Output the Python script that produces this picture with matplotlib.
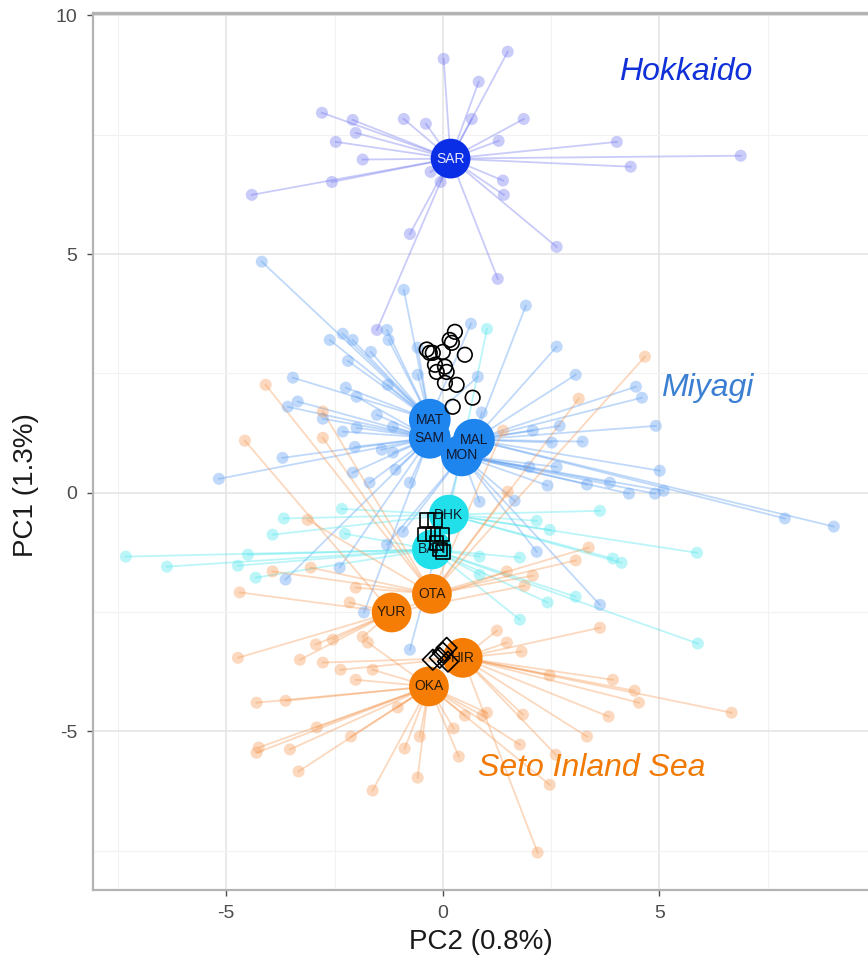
"""PCA scatter of individuals linked to population centroids"""
import matplotlib
matplotlib.use('Agg')
import matplotlib.pyplot as plt
from matplotlib.ticker import MultipleLocator

plt.rcParams['font.family'] = ['Liberation Sans', 'DejaVu Sans']
plt.rcParams['axes.unicode_minus'] = False

# population centroids (PC2, PC1)
pop_names = ['SAR', 'MAT', 'SAM', 'MAL', 'MON', 'DHK', 'BAN', 'OTA', 'YUR', 'HIR', 'OKA']
pop_x = [0.18, -0.30, -0.30, 0.72, 0.44, 0.14, -0.25, -0.25, -1.18, 0.46, -0.32]
pop_y = [7.00, 1.53, 1.15, 1.11, 0.78, -0.46, -1.19, -2.12, -2.51, -3.46, -4.06]
pop_region = ['hok', 'miy', 'miy', 'miy', 'miy', 'cya', 'cya', 'set', 'set', 'set', 'set']

# individuals per population
ind_x = {
    'SAR': [0.02, -2.79, -2.08, -2.01, -2.47, -1.85, -2.56, -4.41, -0.90, -0.39, -0.28, -0.05,
            -0.76, -1.52, 1.50, 0.83, 0.67, 1.87, 1.29, 4.02, 6.88, 4.34, 1.39, 1.41, 2.63, 1.27],
    'MAT': [-4.18, -0.90, -2.61, -2.31, -2.08, -1.66, -2.19, -1.29, -1.25, -0.58, -3.46, -2.24,
            -1.27, -0.58, 0.65, 0.81],
    'SAM': [-1.99, -3.35, -3.58, -2.77, -1.52, -2.31, -1.99, -1.15, -2.03, -1.41, -3.70, -5.17,
            -2.08, -1.69, -1.09, -1.15, -0.76, -3.63, -2.38, -1.82],
    'MAL': [1.92, 2.63, 3.07, 4.46, 4.60, 0.90, 2.70, 2.08, 4.92, 3.23, 2.52, 5.01, 7.90, 9.03],
    'MON': [2.42, 3.33, 3.86, 4.30, 4.90, 5.10, 1.66, 0.85, 2.00, 2.63, -1.29, -0.92, -0.76,
            2.17, 3.63],
    'DHK': [1.02, 3.63, 2.17, 2.47, 5.87, 3.93, 4.13, -2.33, -3.67, -3.93],
    'BAN': [-7.32, -6.37, -4.73, -4.50, -4.32, -2.26, 3.07, 2.42, 5.89, 1.78, 1.78, 0.85, 0.85],
    'OTA': [-4.09, -2.77, -2.77, 4.67, 3.14, 1.39, 1.50, 3.37, 3.07, 2.08, -3.12, -3.93, -3.05,
            -2.01],
    'YUR': [-4.57, -4.69, -2.15, -4.73, -3.30, -2.93, -2.54, -1.85, 1.89, 1.48],
    'HIR': [3.63, 1.25, 1.48, 1.82, 2.47, 3.93, 4.43, 4.53, 6.67, 3.83, 1.85, -2.77, -2.36,
            3.33, 2.61, 2.19],
    'OKA': [-1.73, -1.62, -2.01, -4.30, -3.63, -4.25, -4.30, -3.53, -2.91, -3.33, -2.12, -1.04,
            -0.88, -0.53, -0.58, -1.62, 0.37, 0.25, 0.51, 0.92, 1.78, 2.47, 1.02],
}
ind_y = {
    'SAR': [9.09, 7.96, 7.81, 7.54, 7.35, 6.98, 6.51, 6.24, 7.83, 7.73, 6.72, 6.51,
            5.42, 3.41, 9.24, 8.61, 7.83, 7.83, 7.37, 7.35, 7.06, 6.83, 6.54, 6.24, 5.15, 4.48],
    'MAT': [4.84, 4.25, 3.20, 3.33, 3.20, 2.95, 2.76, 3.41, 3.20, 3.04, 2.41, 2.20,
            2.26, 2.47, 3.54, 2.43],
    'SAM': [2.01, 1.91, 1.80, 1.55, 1.63, 1.28, 1.36, 1.38, 0.96, 0.90, 0.73, 0.29,
            0.42, 0.21, 0.48, 0.84, 0.21, -1.82, -1.57, -2.51],
    'MAL': [3.92, 3.06, 2.47, 2.22, 1.99, 1.68, 1.40, 1.30, 1.40, 1.07, 1.05, 0.46, -0.54, -0.71],
    'MON': [0.15, 0.17, 0.21, -0.02, -0.02, 0.04, -0.17, -0.19, 0.54, 0.54, -1.09, -0.82, -3.29,
            -1.24, -2.35],
    'DHK': [3.43, -0.38, -0.59, -0.78, -1.26, -1.38, -1.47, -0.34, -0.54, -0.88],
    'BAN': [-1.34, -1.55, -1.53, -1.30, -1.78, -0.86, -2.18, -2.30, -3.16, -2.66, -1.36, -1.34, -1.72],
    'OTA': [2.26, 1.70, 1.15, 2.85, 1.97, 1.30, 0.02, -1.15, -1.42, -1.74, -0.57, -1.65, -1.57,
            -1.99],
    'YUR': [1.09, -2.09, -2.30, -3.46, -3.50, -3.18, -3.08, -3.02, -1.95, -1.65],
    'HIR': [-2.83, -2.89, -3.14, -3.33, -3.83, -3.92, -4.15, -4.40, -4.61, -4.69, -4.65, -3.56, -3.71,
            -5.11, -5.49, -7.54],
    'OKA': [-3.14, -3.71, -3.92, -4.40, -4.36, -5.34, -5.45, -5.38, -4.92, -5.84, -5.11, -4.50,
            -5.36, -5.11, -5.97, -6.24, -5.53, -4.94, -4.67, -4.67, -5.28, -6.12, -4.61],
}

# reference samples (black open markers)
ref_circle_x = [0.28, 0.16, -0.37, -0.23, 0.00, 0.21, 0.51, -0.18, 0.05, -0.14, 0.09, 0.05, 0.32, 0.69, 0.23, -0.30]
ref_circle_y = [3.37, 3.20, 3.00, 2.93, 2.95, 3.14, 2.89, 2.68, 2.64, 2.53, 2.53, 2.30, 2.26, 1.99, 1.80, 2.93]
ref_square_x = [-0.37, -0.18, -0.42, -0.23, -0.02, -0.14, -0.07, 0.00]
ref_square_y = [-0.57, -0.57, -0.88, -0.88, -0.88, -1.05, -1.19, -1.24]
ref_diamond_x = [-0.23, -0.07, 0.09, 0.12, 0.00]
ref_diamond_y = [-3.50, -3.46, -3.25, -3.54, -3.35]

region_names = ['Hokkaido', 'Miyagi', 'Seto Inland Sea']
region_label_x = [5.6, 6.1, 3.45]
region_label_y = [8.82, 2.2, -5.76]

CENTER_COL = {'hok': '#0a2ee6', 'miy': '#1e84ee', 'cya': '#22e0ea', 'set': '#f57d05'}
POINT_COL = {'hok': '#7378f0', 'miy': '#5b9df2', 'cya': '#4fe6ee', 'set': '#f59a55'}
LABEL_COL = {'hok': '#e8e8ff', 'miy': '#101830', 'cya': '#102030', 'set': '#2a1a08'}
REGION_TEXT_COL = ['#1030d8', '#3a7fd2', '#f07a05']


def _plot_population(axis, name, cx, cy, region):
    xs = ind_x[name]
    ys = ind_y[name]
    for x, y in zip(xs, ys):
        axis.plot([cx, x], [cy, y], color=POINT_COL[region], alpha=0.38, lw=1.3, zorder=2)
    axis.scatter(xs, ys, s=75, color=POINT_COL[region], alpha=0.38, edgecolors='none', zorder=3)


fig = plt.figure(figsize=(8.68, 9.64), dpi=100)
ax = fig.add_axes([0.107, 0.077, 0.893, 0.9095])

for name, cx, cy, reg in zip(pop_names, pop_x, pop_y, pop_region):
    _plot_population(ax, name, cx, cy, reg)

for name, cx, cy, reg in zip(pop_names, pop_x, pop_y, pop_region):
    size = 900 if reg == 'miy' else 820
    ax.scatter([cx], [cy], s=size, color=CENTER_COL[reg], edgecolors='none', zorder=5)
    ax.text(cx, cy, name, ha='center', va='center', fontsize=10, color=LABEL_COL[reg], zorder=6)

ax.scatter(ref_circle_x, ref_circle_y, s=110, facecolors='none', edgecolors='black', lw=1.2, zorder=7)
ax.scatter(ref_square_x, ref_square_y, s=95, marker='s', facecolors='none', edgecolors='black', lw=1.2, zorder=7)
ax.scatter(ref_diamond_x, ref_diamond_y, s=110, marker='D', facecolors='none', edgecolors='black', lw=1.2, zorder=7)

for txt, tx, ty, col in zip(region_names, region_label_x, region_label_y, REGION_TEXT_COL):
    ax.text(tx, ty, txt, ha='center', va='center', fontsize=23, style='italic', color=col, zorder=8)

ax.set_xlim(-8.08, 9.82)
ax.set_ylim(-8.32, 10.05)
ax.xaxis.set_major_locator(MultipleLocator(5))
ax.yaxis.set_major_locator(MultipleLocator(5))
ax.xaxis.set_minor_locator(MultipleLocator(2.5))
ax.yaxis.set_minor_locator(MultipleLocator(2.5))
ax.grid(which='major', color='#e3e3e3', lw=1.1, zorder=0)
ax.grid(which='minor', color='#f2f2f2', lw=0.8, zorder=0)
ax.set_axisbelow(True)

for side in ['left', 'bottom', 'top']:
    ax.spines[side].set_color('#b3b3b3')
    ax.spines[side].set_linewidth(1.6)
ax.spines['top'].set_linewidth(2.4)
ax.spines['right'].set_visible(False)
ax.tick_params(axis='both', which='major', labelsize=14, colors='#4d4d4d', length=4, width=1, pad=7)
ax.tick_params(axis='both', which='minor', length=0)
for lab in ax.get_xticklabels() + ax.get_yticklabels():
    lab.set_color('#4d4d4d')

ax.set_xlabel('PC2 (0.8%)', fontsize=20, color='#1a1a1a', labelpad=5)
ax.set_ylabel('PC1 (1.3%)', fontsize=20, color='#1a1a1a')
ax.yaxis.set_label_coords(-0.07, 0.462)

plt.savefig('out.png', dpi=100)
plt.close()
